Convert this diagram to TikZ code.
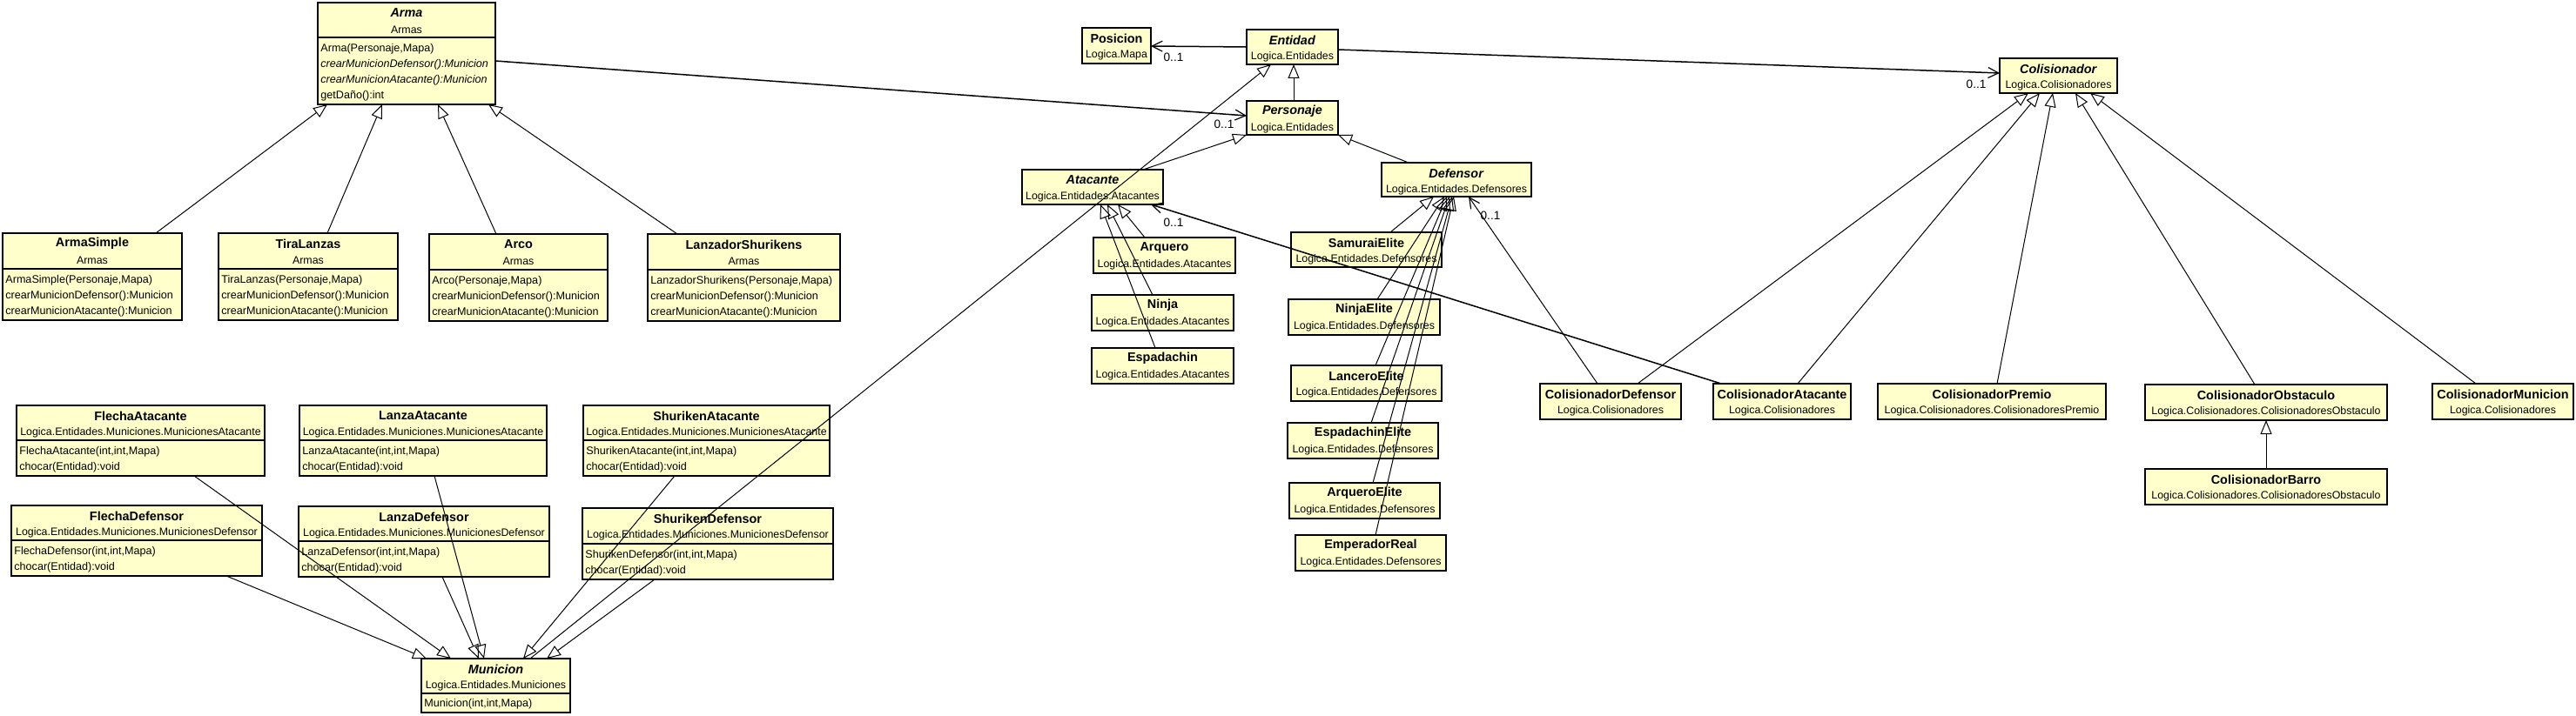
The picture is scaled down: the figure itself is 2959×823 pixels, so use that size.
\documentclass[tikz,border=0pt]{standalone}
\usepackage{fontspec}
\setmainfont{Liberation Sans}
\usetikzlibrary{arrows.meta}
\definecolor{umlfill}{RGB}{255,255,204}
\tikzset{
  box/.style={draw=black, line width=0.75pt, fill=umlfill, inner sep=0pt, outer sep=0pt},
  sepline/.style={line width=0.75pt},
  ttl/.style={font=\fontsize{7.2}{8}\selectfont\bfseries, inner sep=0pt},
  pkg/.style={font=\fontsize{6.2}{7}\selectfont, inner sep=0pt},
  op/.style={font=\fontsize{6.3}{7}\selectfont, inner sep=0pt, anchor=west},
  gen/.style={line width=0.5pt, -{Triangle[open,length=8pt,width=6.5pt]}},
  assoc/.style={line width=0.75pt, -{Straight Barb[length=6pt,width=6pt,line width=0.6pt]}},
  assocthin/.style={line width=0.5pt, -{Straight Barb[length=6pt,width=6pt,line width=0.6pt]}},
  mult/.style={font=\fontsize{6.8}{8}\selectfont, inner sep=0pt},
}
% name, x1, y1, x2, y2, title, package
\newcommand\umlclass[7]{%
  \node[box, anchor=north west, minimum width={(#4-#2)*0.5pt}, minimum height={(#5-#3)*0.5pt}] (#1) at (#2,#3) {};
  \node[ttl] (#1-t) at ({(#2+#4)/2},{#3+12}) {#6};
  \node[pkg] (#1-p) at ({(#2+#4)/2},{#3+31}) {#7};
}
\newcommand\umlsep[2]{\draw[sepline] (#1.west |- 0,#2) -- (#1.east |- 0,#2);}
\newcommand\umlop[4]{\node[op] (#1) at (#2,#3) {#4};}
\begin{document}
\begin{tikzpicture}[x=0.5pt,y=-0.5pt]
\fill[white] (0,0) rectangle (2959,823);
\useasboundingbox (0,0) rectangle (2959,823);

% ---------------- Armas ----------------
\umlclass{arma}{365}{3}{569}{120}{\textit{Arma}}{Armas}
\umlsep{arma}{43}
\umlop{arma-1}{368}{56}{Arma(Personaje,Mapa)}
\umlop{arma-2}{368}{74}{\textit{crearMunicionDefensor():Municion}}
\umlop{arma-3}{368}{92}{\textit{crearMunicionAtacante():Municion}}
\umlop{arma-4}{368}{110}{getDaño():int}

\umlclass{asimple}{3}{268}{209}{368}{ArmaSimple}{Armas}
\umlsep{asimple}{309}
\umlop{asimple-1}{6}{322}{ArmaSimple(Personaje,Mapa)}
\umlop{asimple-2}{6}{340}{crearMunicionDefensor():Municion}
\umlop{asimple-3}{6}{358}{crearMunicionAtacante():Municion}

\umlclass{tiral}{251}{268}{457}{368}{TiraLanzas}{Armas}
\umlsep{tiral}{309}
\umlop{tiral-1}{254}{322}{TiraLanzas(Personaje,Mapa)}
\umlop{tiral-2}{254}{340}{crearMunicionDefensor():Municion}
\umlop{tiral-3}{254}{358}{crearMunicionAtacante():Municion}

\umlclass{arco}{493}{269}{698}{369}{Arco}{Armas}
\umlsep{arco}{310}
\umlop{arco-1}{496}{323}{Arco(Personaje,Mapa)}
\umlop{arco-2}{496}{341}{crearMunicionDefensor():Municion}
\umlop{arco-3}{496}{359}{crearMunicionAtacante():Municion}

\umlclass{lanzador}{744}{269}{965}{369}{LanzadorShurikens}{Armas}
\umlsep{lanzador}{310}
\umlop{lanzador-1}{747}{323}{LanzadorShurikens(Personaje,Mapa)}
\umlop{lanzador-2}{747}{341}{crearMunicionDefensor():Municion}
\umlop{lanzador-3}{747}{359}{crearMunicionAtacante():Municion}

% ---------------- Municiones ----------------
\umlclass{flechaat}{19}{466}{304}{547}{FlechaAtacante}{Logica.Entidades.Municiones.MunicionesAtacante}
\umlsep{flechaat}{506}
\umlop{flechaat-1}{22}{519}{FlechaAtacante(int,int,Mapa)}
\umlop{flechaat-2}{22}{537}{chocar(Entidad):void}

\umlclass{lanzaat}{344}{466}{628}{547}{LanzaAtacante}{Logica.Entidades.Municiones.MunicionesAtacante}
\umlsep{lanzaat}{506}
\umlop{lanzaat-1}{347}{519}{LanzaAtacante(int,int,Mapa)}
\umlop{lanzaat-2}{347}{537}{chocar(Entidad):void}

\umlclass{shurat}{670}{466}{953}{547}{ShurikenAtacante}{Logica.Entidades.Municiones.MunicionesAtacante}
\umlsep{shurat}{506}
\umlop{shurat-1}{673}{519}{ShurikenAtacante(int,int,Mapa)}
\umlop{shurat-2}{673}{537}{chocar(Entidad):void}

\umlclass{flechadef}{13}{581}{301}{662}{FlechaDefensor}{Logica.Entidades.Municiones.MunicionesDefensor}
\umlsep{flechadef}{621}
\umlop{flechadef-1}{16}{634}{FlechaDefensor(int,int,Mapa)}
\umlop{flechadef-2}{16}{652}{chocar(Entidad):void}

\umlclass{lanzadef}{343}{582}{631}{663}{LanzaDefensor}{Logica.Entidades.Municiones.MunicionesDefensor}
\umlsep{lanzadef}{622}
\umlop{lanzadef-1}{346}{635}{LanzaDefensor(int,int,Mapa)}
\umlop{lanzadef-2}{346}{653}{chocar(Entidad):void}

\umlclass{shurdef}{669}{584}{957}{666}{ShurikenDefensor}{Logica.Entidades.Municiones.MunicionesDefensor}
\umlsep{shurdef}{625}
\umlop{shurdef-1}{672}{638}{ShurikenDefensor(int,int,Mapa)}
\umlop{shurdef-2}{672}{656}{chocar(Entidad):void}

\umlclass{municion}{484}{757}{655}{819}{\textit{Municion}}{Logica.Entidades.Municiones}
\umlsep{municion}{797}
\umlop{municion-1}{487}{809}{Municion(int,int,Mapa)}

% ---------------- Entidades ----------------
\umlclass{posicion}{1243}{32}{1322}{73}{Posicion}{Logica.Mapa}
\umlclass{entidad}{1432}{34}{1537}{74}{\textit{Entidad}}{Logica.Entidades}
\umlclass{personaje}{1432}{116}{1537}{155}{\textit{Personaje}}{Logica.Entidades}
\umlclass{atacante}{1174}{195}{1336}{235}{\textit{Atacante}}{Logica.Entidades.Atacantes}
\umlclass{defensor}{1587}{187}{1759}{226}{\textit{Defensor}}{Logica.Entidades.Defensores}

\umlclass{arquero}{1256}{273}{1419}{314}{Arquero}{Logica.Entidades.Atacantes}
\umlclass{ninja}{1254}{339}{1417}{380}{Ninja}{Logica.Entidades.Atacantes}
\umlclass{espadachin}{1254}{400}{1417}{441}{Espadachin}{Logica.Entidades.Atacantes}

\umlclass{samurai}{1483}{267}{1656}{307}{SamuraiElite}{Logica.Entidades.Defensores}
\umlclass{ninjaelite}{1480}{344}{1654}{385}{NinjaElite}{Logica.Entidades.Defensores}
\umlclass{lancero}{1483}{420}{1656}{461}{LanceroElite}{Logica.Entidades.Defensores}
\umlclass{espelite}{1479}{486}{1652}{527}{EspadachinElite}{Logica.Entidades.Defensores}
\umlclass{arqelite}{1481}{555}{1654}{596}{ArqueroElite}{Logica.Entidades.Defensores}
\umlclass{emperador}{1488}{615}{1661}{656}{EmperadorReal}{Logica.Entidades.Defensores}

% ---------------- Colisionadores ----------------
\umlclass{colisionador}{2297}{67}{2432}{107}{\textit{Colisionador}}{Logica.Colisionadores}
\umlclass{coldef}{1769}{441}{1931}{482}{ColisionadorDefensor}{Logica.Colisionadores}
\umlclass{colata}{1968}{441}{2126}{482}{ColisionadorAtacante}{Logica.Colisionadores}
\umlclass{colpremio}{2157}{441}{2419}{482}{ColisionadorPremio}{Logica.Colisionadores.ColisionadoresPremio}
\umlclass{colobs}{2464}{442}{2742}{483}{ColisionadorObstaculo}{Logica.Colisionadores.ColisionadoresObstaculo}
\umlclass{colmun}{2794}{441}{2956}{482}{ColisionadorMunicion}{Logica.Colisionadores}
\umlclass{colbarro}{2464}{539}{2742}{580}{ColisionadorBarro}{Logica.Colisionadores.ColisionadoresObstaculo}

% ---------------- Generalizations ----------------
\draw[gen] (asimple.north -| 179,0) -- (arma.south -| 376,0);
\draw[gen] (tiral.north -| 376,0) -- (arma.south -| 439,0);
\draw[gen] (arco.north -| 570,0) -- (arma.south -| 503,0);
\draw[gen] (lanzador.north -| 778,0) -- (arma.south -| 561,0);

\draw[gen] (personaje.north -| 1486,0) -- (entidad.south -| 1486,0);
\draw[gen] (atacante.north -| 1313,0) -- (personaje.south west);
\draw[gen] (defensor.north -| 1618,0) -- (personaje.south east);
\draw[gen] (municion.north -| 609,0) -- (entidad.south -| 1460,0);

\draw[gen] (arquero.north -| 1315,0) -- (atacante.south -| 1284,0);
\draw[gen] (ninja.north -| 1324,0) -- (atacante.south -| 1272,0);
\draw[gen] (espadachin.north -| 1327,0) -- (atacante.south -| 1264,0);

\draw[gen] (samurai.north -| 1597,0) -- (defensor.south -| 1647,0);
\draw[gen] (ninjaelite.north -| 1582,0) -- (defensor.south -| 1659,0);
\draw[gen] (lancero.north -| 1580,0) -- (defensor.south -| 1662,0);
\draw[gen] (espelite.north -| 1575,0) -- (defensor.south -| 1665,0);
\draw[gen] (arqelite.north -| 1577,0) -- (defensor.south -| 1668,0);
\draw[gen] (emperador.north -| 1580,0) -- (defensor.south -| 1670,0);

\draw[gen] (flechaat.south -| 223,0) -- (municion.north -| 518,0);
\draw[gen] (flechadef.south -| 260,0) -- (municion.north -| 490,0);
\draw[gen] (lanzaat.south -| 499,0) -- (municion.north -| 556,0);
\draw[gen] (lanzadef.south -| 508,0) -- (municion.north -| 550,0);
\draw[gen] (shurat.south -| 775,0) -- (municion.north -| 601,0);
\draw[gen] (shurdef.south -| 752,0) -- (municion.north -| 628,0);

\draw[gen] (coldef.north -| 1881,0) -- (colisionador.south -| 2330,0);
\draw[gen] (colata.north -| 2065,0) -- (colisionador.south -| 2343,0);
\draw[gen] (colpremio.north -| 2294,0) -- (colisionador.south -| 2358,0);
\draw[gen] (colobs.north -| 2590,0) -- (colisionador.south -| 2384,0);
\draw[gen] (colmun.north -| 2844,0) -- (colisionador.south -| 2401,0);
\draw[gen] (colbarro.north -| 2603,0) -- (colobs.south -| 2603,0);

% ---------------- Associations ----------------
\draw[assoc] (entidad.west |- 0,54) -- (posicion.east |- 0,53);
\draw[assoc] (arma.east |- 0,70) -- (personaje.west |- 0,133);
\draw[assoc] (entidad.east |- 0,57) -- (colisionador.west |- 0,84);
\draw[assoc] (colata.north -| 1977,0) -- (atacante.south -| 1322,0);
\draw[assocthin] (coldef.north -| 1835,0) -- (defensor.south -| 1687,0);

% ---------------- Multiplicities ----------------
\node[mult] (m1) at (1348,66) {0..1};
\node[mult] (m2) at (1406,143) {0..1};
\node[mult] (m3) at (1348,256) {0..1};
\node[mult] (m4) at (1712,248) {0..1};
\node[mult] (m5) at (2270,97) {0..1};
\end{tikzpicture}
\end{document}
